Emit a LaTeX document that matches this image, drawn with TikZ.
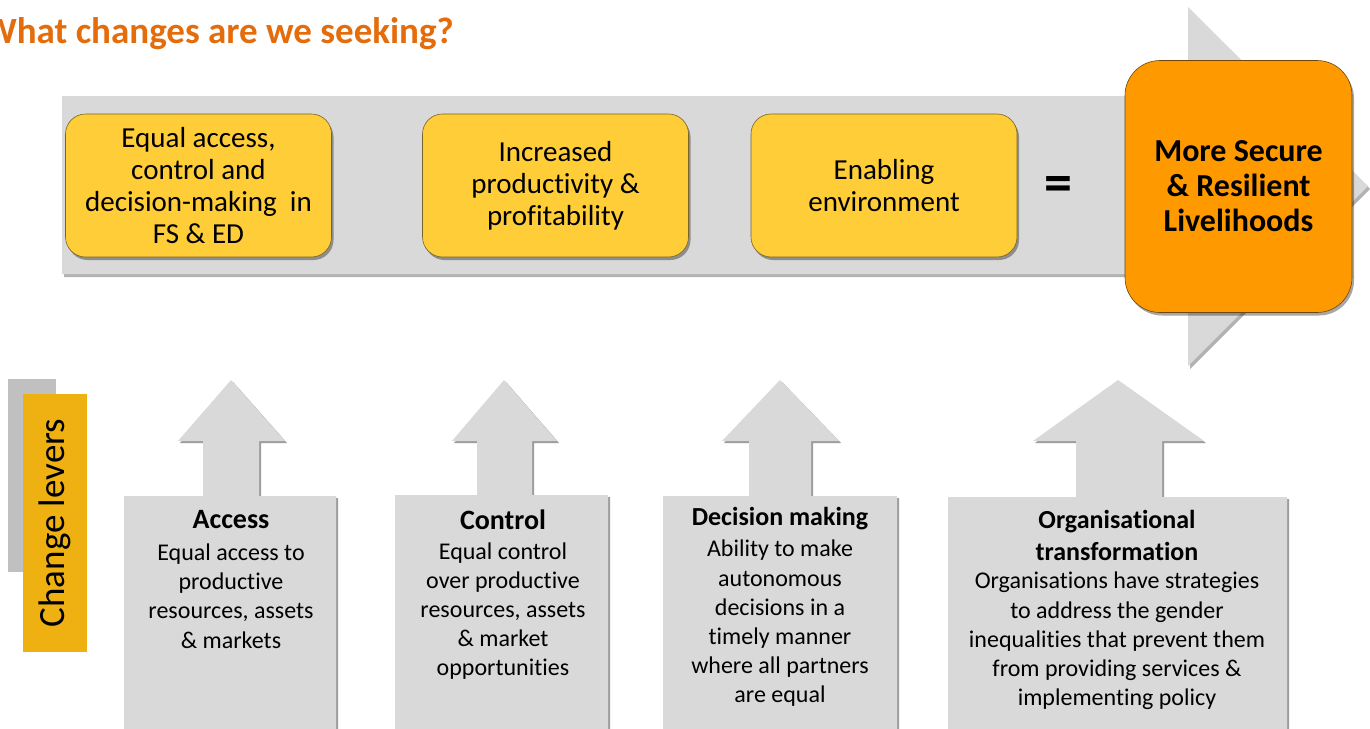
\documentclass[tikz,border=0pt]{standalone}
\usepackage{fontspec}
\setmainfont{Carlito}[Ligatures={NoCommon}]
\usetikzlibrary{shadows}
\definecolor{bandgray}{RGB}{217,217,217}
\definecolor{yfill}{RGB}{254,205,56}
\definecolor{yedge}{RGB}{120,100,40}
\definecolor{ofill}{RGB}{255,153,0}
\definecolor{oedge}{RGB}{110,70,10}
\definecolor{titleor}{RGB}{228,108,10}
\definecolor{leverfill}{RGB}{238,177,17}
\definecolor{levershade}{RGB}{192,192,192}
\newcommand\upcallout[9]{%
  \path[calloutshape] (#1,#3) -- (#4,#3) -- (#4,441) -- (#6,441) -- (#8,380)
     -- (#7,441) -- (#5,441) -- (#5,#3) -- (#2,#3) -- (#2,#9) -- (#1,#9) -- cycle;}
\begin{document}
\begin{tikzpicture}[x=1pt,y=-1pt,
  yellowbox/.style={draw=yedge, line width=0.6pt, fill=yfill, rounded corners=20pt,
     minimum width=266pt, minimum height=143pt, align=center, inner sep=0pt,
     font=\fontsize{29}{32}\selectfont,
     drop shadow={shadow xshift=2pt, shadow yshift=-3pt, opacity=0.35, fill=black}},
  orangebox/.style={draw=oedge, line width=0.6pt, fill=ofill, rounded corners=35pt,
     minimum width=227pt, minimum height=252pt, align=center, inner sep=0pt,
     font=\fontsize{32}{35}\selectfont\bfseries,
     drop shadow={shadow xshift=2pt, shadow yshift=-3pt, opacity=0.35, fill=black}},
  calloutshape/.style={fill=bandgray,
     drop shadow={shadow xshift=2pt, shadow yshift=-2pt, opacity=0.55, fill=black!70}},
  headbig/.style={align=center, inner sep=0pt, font=\fontsize{28}{33}\selectfont\bfseries},
  headsmall/.style={align=center, inner sep=0pt, font=\fontsize{26}{32}\selectfont\bfseries},
  bodytext/.style={align=center, inner sep=0pt, font=\fontsize{24}{29.2}\selectfont},
]
\useasboundingbox (0,0) rectangle (1370,728);
\clip (0,0) rectangle (1370,728);

% title
\node[anchor=base east, inner sep=0pt, text=titleor,
      font=\fontsize{37}{40}\selectfont\bfseries] (title) at (454,43) {What changes are we seeking?};

% big arrow
\path[fill=bandgray, drop shadow={shadow xshift=2pt, shadow yshift=-3pt, opacity=0.3, fill=black}]
  (62,96) -- (1188,96) -- (1188,7) -- (1368,186) -- (1188,366) -- (1188,274) -- (62,274) -- cycle;

\node[yellowbox] (y1) at (198.5,185.5) {Equal access,\\control and\\decision-making\ \ in\\FS \& ED};
\node[yellowbox] (y2) at (555.5,185.5) {Increased\\productivity \&\\profitability};
\node[yellowbox] (y3) at (884,185.5) {Enabling\\environment};
\node[inner sep=0pt, font=\fontsize{56}{56}\selectfont\bfseries] (eq) at (1058.5,189) {=};
\node[orangebox] (goal) at (1238.5,186.5) {More Secure\\\& Resilient\\Livelihoods};

% change levers
\fill[levershade] (8,379) rectangle (56,572);
\node[fill=leverfill, rotate=90, minimum width=258pt, minimum height=64pt, inner sep=0pt,
      font=\fontsize{37}{40}\selectfont] (levers) at (55,523) {Change levers};

% callouts
\upcallout{124}{336}{496}{203}{259}{178}{285}{231}{740}
\upcallout{395}{608}{495}{477}{532}{452}{557}{504}{740}
\upcallout{663}{897}{496}{749}{811}{722}{839}{780}{740}
\upcallout{948}{1287}{497}{1076}{1162}{1033}{1204}{1118}{740}

\node[headbig] (acch) at (231,520) {Access};
\node[bodytext] (accb) at (231,596) {Equal access to\\productive\\resources, assets\\\& markets};
\node[headbig] (conh) at (503,520) {Control};
\node[bodytext] (conb) at (503,611) {Equal control\\over productive\\resources, assets\\\& market\\opportunities};
\node[headsmall] (dech) at (780,519) {Decision making};
\node[bodytext] (decb) at (780,623.5) {Ability to make\\autonomous\\decisions in a\\timely manner\\where all partners\\are equal};
\node[headsmall] (orgh) at (1117,535) {Organisational\\transformation};
\node[bodytext] (orgb) at (1117,641) {Organisations have strategies\\to address the gender\\inequalities that prevent them\\from providing services \&\\implementing policy};
\end{tikzpicture}
\end{document}
